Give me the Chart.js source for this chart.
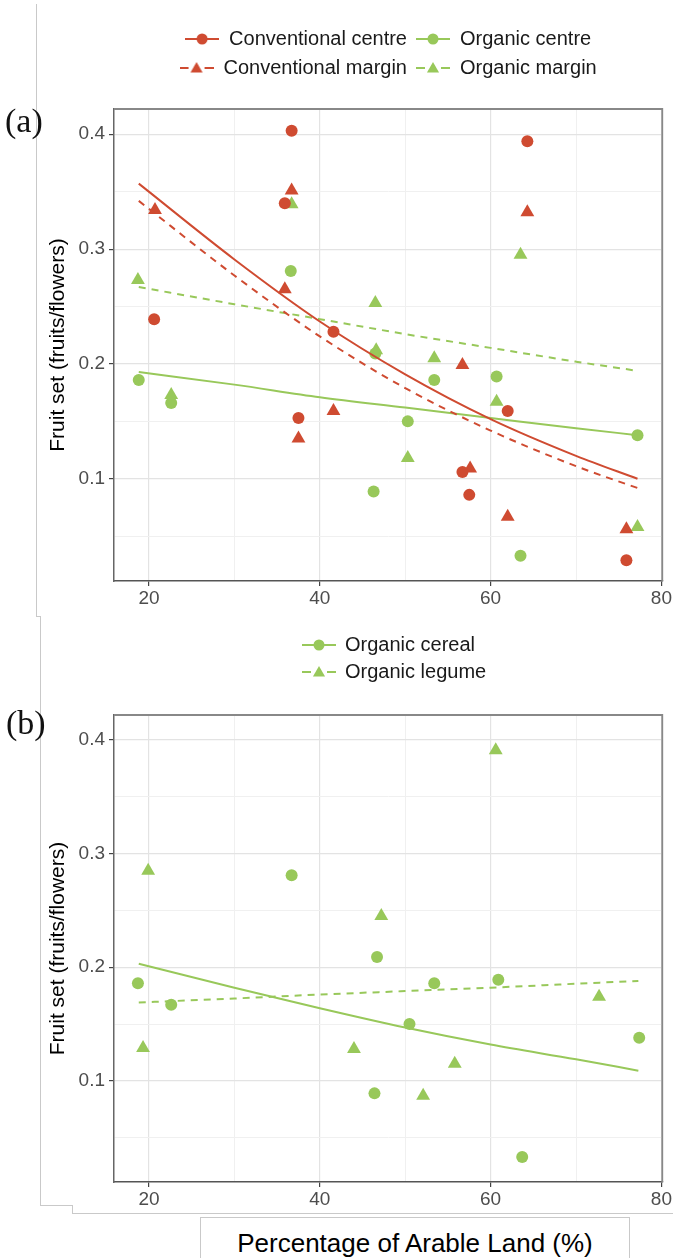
<!DOCTYPE html>
<html>
<head>
<meta charset="utf-8">
<title>Fruit set vs arable land</title>
<script src="https://cdn.jsdelivr.net/npm/chart.js@4.4.1/dist/chart.umd.min.js"></script>
<style>
  html, body { margin: 0; padding: 0; background: #fff; }
  #page { position: relative; width: 673px; height: 1258px; overflow: hidden; font-family: "Liberation Sans", Arial, sans-serif; }
  #page > canvas { position: absolute; left: 0; }
  #chartA { top: 0; }
  #chartB { top: 620px; }
  .rule { position: absolute; background: #c9c9c9; }
  .tag { position: absolute; font-family: "Liberation Serif", "Times New Roman", serif; font-size: 34px; line-height: 34px; color: #111; }
  #legendB { position: absolute; left: 302px; top: 631px; }
  .legRow { display: flex; align-items: center; height: 27px; font-size: 20px; color: #1a1a1a; white-space: nowrap; }
  .legRow canvas { margin-right: 9px; }
  #xTitleBox { position: absolute; left: 200px; top: 1217px; width: 428px; height: 40px; border: 1px solid #c9c9c9;
               text-align: center; font-size: 26px; line-height: 50px; color: #000; white-space: nowrap; }
</style>
</head>
<body>
<div id="page">
  <!-- frame lines from the source figure -->
  <div class="rule" style="left:36px;top:4px;width:1px;height:612px"></div>
  <div class="rule" style="left:36px;top:616px;width:5px;height:1px"></div>
  <div class="rule" style="left:40px;top:616px;width:1px;height:589px"></div>
  <div class="rule" style="left:40px;top:1205px;width:33px;height:1px"></div>
  <div class="rule" style="left:72px;top:1205px;width:1px;height:8px"></div>
  <div class="rule" style="left:72px;top:1213px;width:601px;height:1px"></div>
  <div id="xTitleBox">Percentage of Arable Land (%)</div>

  <canvas id="chartA" width="673" height="620"></canvas>
  <canvas id="chartB" width="673" height="638"></canvas>

  <div class="tag" style="left:5px;top:104px">(a)</div>
  <div class="tag" style="left:6px;top:706px">(b)</div>
  <div id="legendB"></div>
</div>

<script>
// ==================== DATA ====================
// axis ticks
const xMajorTicks = [20, 40, 60, 80];
const xMinorTicks = [30, 50, 70];
const yMajorTicks = [0.1, 0.2, 0.3, 0.4];
const yMinorTicks = [0.05, 0.15, 0.25, 0.35];

// panel (a) - observed fruit set
const convCentreX = [20.6, 35.9, 36.7, 37.5, 41.6, 56.7, 57.5, 62.0, 64.3, 75.9];
const convCentreY = [0.239, 0.340, 0.403, 0.153, 0.228, 0.106, 0.086, 0.159, 0.394, 0.029];
const convMarginX = [20.7, 35.9, 36.7, 37.5, 41.6, 56.7, 57.6, 62.0, 64.3, 75.9];
const convMarginY = [0.334, 0.265, 0.351, 0.135, 0.159, 0.199, 0.109, 0.067, 0.332, 0.056];
const orgCentreX = [18.8, 22.6, 36.6, 46.3, 46.5, 50.3, 53.4, 60.7, 63.5, 77.2];
const orgCentreY = [0.186, 0.166, 0.281, 0.089, 0.209, 0.150, 0.186, 0.189, 0.033, 0.138];
const orgMarginX = [18.7, 22.6, 36.7, 46.5, 46.6, 50.3, 53.4, 60.7, 63.5, 77.2];
const orgMarginY = [0.273, 0.173, 0.339, 0.253, 0.212, 0.118, 0.205, 0.167, 0.295, 0.058];

// panel (a) - fitted curves
const fitXA = [18.8, 30, 40, 50, 60, 70, 77.2];
const convCentreFit = [0.357, 0.291, 0.237, 0.191, 0.152, 0.120, 0.100];
const convMarginFit = [0.342, 0.277, 0.224, 0.179, 0.142, 0.111, 0.092];
const orgCentreFit = [0.193, 0.182, 0.171, 0.162, 0.153, 0.144, 0.138];
const orgMarginFit = [0.267, 0.252, 0.239, 0.226, 0.214, 0.202, 0.194];

// panel (b) - observed fruit set
const cerealX = [18.7, 22.6, 36.7, 46.4, 46.7, 50.5, 53.4, 60.9, 63.7, 77.4];
const cerealY = [0.186, 0.167, 0.281, 0.089, 0.209, 0.150, 0.186, 0.189, 0.033, 0.138];
const legumeX = [19.3, 19.9, 44.0, 47.2, 52.1, 55.8, 60.6, 72.7];
const legumeY = [0.129, 0.285, 0.128, 0.245, 0.087, 0.115, 0.391, 0.174];

// panel (b) - fitted curves
const fitXB = [18.8, 30, 40, 50, 60, 70, 77.3];
const cerealFit = [0.203, 0.182, 0.164, 0.147, 0.132, 0.119, 0.109];
const legumeFit = [0.169, 0.1725, 0.176, 0.179, 0.182, 0.1855, 0.188];

// ==================== STYLE ====================
const RED = '#cf4b31';
const GREEN = '#98c85a';
const TICK_TEXT = '#4d4d4d';
const X_MIN = 15.9, X_MAX = 80.1;
const Y_MIN = 0.011, Y_MAX = 0.422;

Chart.defaults.font.family = '"Liberation Sans", Arial, sans-serif';

// ==================== HELPERS ====================
const toPoints = (xs, ys) => xs.map((x, i) => ({ x: x, y: ys[i] }));

function pointSet(label, xs, ys, color, shape) {
    return {
        label: label,
        data: toPoints(xs, ys),
        pointStyle: shape,
        pointRadius: shape === 'triangle' ? 8 : 6,
        backgroundColor: color,
        borderColor: color,
        borderWidth: 0,
        showLine: false
    };
}

function fitLine(label, xs, ys, color, dashed) {
    return {
        label: label,
        data: toPoints(xs, ys),
        showLine: true,
        borderColor: color,
        borderWidth: 2,
        borderDash: dashed ? [7, 6] : [],
        pointRadius: 0,
        fill: false,
        cubicInterpolationMode: 'monotone'
    };
}

// legend key: line (solid or dashed) with marker in the middle
function makeKey(color, dashed, shape) {
    const c = document.createElement('canvas');
    c.width = 34; c.height = 20;
    const g = c.getContext('2d');
    g.strokeStyle = color;
    g.fillStyle = color;
    g.lineWidth = 2;
    g.beginPath();
    if (dashed) {
        g.moveTo(0, 10); g.lineTo(9, 10);
        g.moveTo(25, 10); g.lineTo(34, 10);
    } else {
        g.moveTo(0, 10); g.lineTo(34, 10);
    }
    g.stroke();
    Chart.helpers.drawPoint(g, {
        pointStyle: shape,
        radius: shape === 'triangle' ? 7 : 5.5,
        borderWidth: 0
    }, 17, shape === 'triangle' ? 11 : 10);
    return c;
}

function gridOpts(major) {
    const isMaj = c => c.tick && major.includes(c.tick.value);
    return {
        color: c => isMaj(c) ? '#e3e3e3' : '#f0f0f0',
        lineWidth: c => isMaj(c) ? 1.2 : 1,
        tickColor: c => isMaj(c) ? '#444' : 'rgba(0,0,0,0)',
        tickLength: 5,
        tickWidth: 1.2
    };
}

function scaleOpts(xHeight) {
    return {
        x: {
            type: 'linear',
            min: X_MIN,
            max: X_MAX,
            afterBuildTicks: s => {
                s.ticks = xMajorTicks.concat(xMinorTicks).sort((a, b) => a - b).map(v => ({ value: v }));
            },
            afterFit: s => { s.height = xHeight; },
            ticks: {
                autoSkip: false,
                maxRotation: 0,
                padding: 1,
                color: TICK_TEXT,
                font: { size: 19 },
                callback: v => xMajorTicks.includes(v) ? String(v) : ''
            },
            grid: gridOpts(xMajorTicks),
            border: { color: '#555', width: 1.5 }
        },
        y: {
            type: 'linear',
            min: Y_MIN,
            max: Y_MAX,
            afterBuildTicks: s => {
                s.ticks = yMinorTicks.concat(yMajorTicks).sort((a, b) => a - b).map(v => ({ value: v }));
            },
            afterFit: s => { s.width = 114; },
            ticks: {
                autoSkip: false,
                padding: 4,
                color: TICK_TEXT,
                font: { size: 19 },
                callback: v => yMajorTicks.includes(v) ? v.toFixed(1) : ''
            },
            grid: gridOpts(yMajorTicks),
            border: { color: '#666', width: 1.5 },
            title: {
                display: true,
                text: 'Fruit set (fruits/flowers)',
                color: '#000',
                font: { size: 21 },
                padding: { top: 46, bottom: 0 }
            }
        }
    };
}

// top and right edges of the panel
const panelFrame = {
    id: 'panelFrame',
    beforeDatasetsDraw(chart) {
        const { ctx, chartArea: a } = chart;
        ctx.save();
        ctx.strokeStyle = '#888';
        ctx.lineWidth = 1.8;
        ctx.beginPath();
        ctx.moveTo(a.left, a.top);
        ctx.lineTo(a.right, a.top);
        ctx.lineTo(a.right, a.bottom);
        ctx.stroke();
        ctx.restore();
    }
};

// extra space between legend and plot area
const legendGap = {
    id: 'legendGap',
    beforeInit(chart) {
        const fit = chart.legend.fit;
        chart.legend.fit = function () {
            fit.call(this);
            this.height += 21;
        };
    }
};

// ==================== PANEL A ====================
const legendItemsA = [
    { text: 'Conventional centre', color: RED, dashed: false, shape: 'circle' },
    { text: 'Organic centre', color: GREEN, dashed: false, shape: 'circle' },
    { text: 'Conventional margin', color: RED, dashed: true, shape: 'triangle' },
    { text: 'Organic margin', color: GREEN, dashed: true, shape: 'triangle' }
].map((k, i) => ({
    text: k.text,
    pointStyle: makeKey(k.color, k.dashed, k.shape),
    fillStyle: k.color,
    strokeStyle: k.color,
    fontColor: '#1a1a1a',
    lineWidth: 0,
    hidden: false,
    datasetIndex: i
}));

new Chart(document.getElementById('chartA'), {
    type: 'scatter',
    data: {
        datasets: [
            fitLine('Conventional centre fit', fitXA, convCentreFit, RED, false),
            fitLine('Conventional margin fit', fitXA, convMarginFit, RED, true),
            fitLine('Organic centre fit', fitXA, orgCentreFit, GREEN, false),
            fitLine('Organic margin fit', fitXA, orgMarginFit, GREEN, true),
            pointSet('Conventional centre', convCentreX, convCentreY, RED, 'circle'),
            pointSet('Conventional margin', convMarginX, convMarginY, RED, 'triangle'),
            pointSet('Organic centre', orgCentreX, orgCentreY, GREEN, 'circle'),
            pointSet('Organic margin', orgMarginX, orgMarginY, GREEN, 'triangle')
        ]
    },
    options: {
        responsive: false,
        animation: false,
        devicePixelRatio: 1,
        events: [],
        layout: { padding: { top: 20, right: 10, bottom: 0, left: 0 } },
        plugins: {
            tooltip: { enabled: false },
            legend: {
                position: 'top',
                align: 'center',
                fullSize: false,
                onClick: () => {},
                labels: {
                    usePointStyle: true,
                    pointStyleWidth: 34,
                    padding: 9,
                    color: '#1a1a1a',
                    font: { size: 20 },
                    generateLabels: () => legendItemsA
                }
            }
        },
        scales: scaleOpts(39)
    },
    plugins: [panelFrame, legendGap]
});

// ==================== PANEL B ====================
new Chart(document.getElementById('chartB'), {
    type: 'scatter',
    data: {
        datasets: [
            fitLine('Organic cereal fit', fitXB, cerealFit, GREEN, false),
            fitLine('Organic legume fit', fitXB, legumeFit, GREEN, true),
            pointSet('Organic cereal', cerealX, cerealY, GREEN, 'circle'),
            pointSet('Organic legume', legumeX, legumeY, GREEN, 'triangle')
        ]
    },
    options: {
        responsive: false,
        animation: false,
        devicePixelRatio: 1,
        events: [],
        layout: { padding: { top: 95, right: 9, bottom: 0, left: 0 } },
        plugins: {
            tooltip: { enabled: false },
            legend: { display: false }
        },
        scales: scaleOpts(76)
    },
    plugins: [panelFrame]
});

// legend for panel (b), stacked like the source
const legendB = document.getElementById('legendB');
[
    { text: 'Organic cereal', dashed: false, shape: 'circle' },
    { text: 'Organic legume', dashed: true, shape: 'triangle' }
].forEach(k => {
    const row = document.createElement('div');
    row.className = 'legRow';
    row.appendChild(makeKey(GREEN, k.dashed, k.shape));
    const span = document.createElement('span');
    span.textContent = k.text;
    row.appendChild(span);
    legendB.appendChild(row);
});
</script>
</body>
</html>
